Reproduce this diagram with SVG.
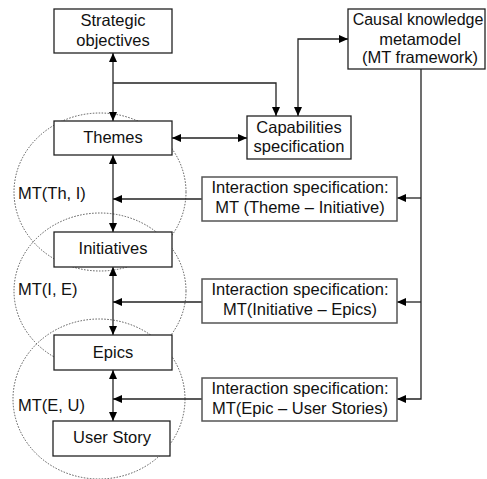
<svg xmlns="http://www.w3.org/2000/svg" width="487" height="479" viewBox="0 0 487 479">
<defs>
<marker id="ah" viewBox="0 0 10 10" refX="10" refY="5" markerWidth="9" markerHeight="8" markerUnits="userSpaceOnUse" orient="auto-start-reverse" preserveAspectRatio="none">
<path d="M0,0 L10,5 L0,10 z" fill="#000"/>
</marker>
</defs>
<style>
text{font-family:"Liberation Sans",Arial,sans-serif;font-size:16.5px;fill:#111;text-anchor:middle}
.lbl{text-anchor:start}
.box{fill:#fff;stroke:#222;stroke-width:1.3}
.ibox{fill:#fff;stroke:#555;stroke-width:1.5}
.c{fill:none;stroke:#222;stroke-width:1.3}
.a{marker-end:url(#ah)}
.b{marker-start:url(#ah);marker-end:url(#ah)}
.ring{fill:none;stroke:#555;stroke-width:1;stroke-dasharray:1.5 1.5}
</style>
<rect width="487" height="479" fill="#fff"/>
<g id="rings">
<ellipse class="ring" cx="100" cy="192" rx="86" ry="79"/>
<ellipse class="ring" cx="100" cy="291" rx="86" ry="78"/>
<ellipse class="ring" cx="99" cy="399" rx="86" ry="80"/>
<text class="lbl" x="18" y="199">MT(Th, I)</text>
<text class="lbl" x="18" y="295">MT(I, E)</text>
<text class="lbl" x="18" y="411">MT(E, U)</text>
</g>
<g id="connectors">
<line class="c b" x1="113" y1="53" x2="113" y2="121"/>
<polyline class="c a" points="113,83 276,83 276,116"/>
<line class="c b" x1="172" y1="138" x2="247" y2="138"/>
<polyline class="c b" points="298,116 298,39 348,39"/>
<polyline class="c a" points="421,69 421,399 397,399"/>
<line class="c a" x1="421" y1="198" x2="397" y2="198"/>
<line class="c a" x1="421" y1="302" x2="397" y2="302"/>
<line class="c b" x1="113" y1="155" x2="113" y2="232"/>
<line class="c a" x1="202" y1="199" x2="113" y2="199"/>
<line class="c b" x1="113" y1="267" x2="113" y2="335"/>
<line class="c a" x1="202" y1="302" x2="113" y2="302"/>
<line class="c b" x1="113" y1="370" x2="113" y2="421"/>
<line class="c a" x1="202" y1="399" x2="113" y2="399"/>
</g>
<g id="strategic">
<rect class="box" x="54" y="9" width="118" height="44"/>
<text x="113" y="26">Strategic</text>
<text x="113" y="46">objectives</text>
</g>
<g id="themes">
<rect class="box" x="54" y="121" width="118" height="34"/>
<text x="113" y="143">Themes</text>
</g>
<g id="capabilities">
<rect class="box" x="247" y="116" width="104" height="43"/>
<text x="299" y="133">Capabilities</text>
<text x="299" y="152">specification</text>
</g>
<g id="causal">
<rect class="box" x="348" y="9" width="137" height="60"/>
<text x="418" y="25" style="font-size:16px">Causal knowledge</text>
<text x="420" y="45">metamodel</text>
<text x="420" y="63">(MT framework)</text>
</g>
<g id="initiatives">
<rect class="box" x="54" y="232" width="118" height="35"/>
<text x="113" y="254">Initiatives</text>
</g>
<g id="epics">
<rect class="box" x="54" y="335" width="118" height="35"/>
<text x="113" y="358">Epics</text>
</g>
<g id="userstory">
<rect class="box" x="53" y="421" width="117" height="35"/>
<text x="112" y="443">User Story</text>
</g>
<g id="int1">
<rect class="ibox" x="202" y="177" width="195" height="44"/>
<text x="300" y="193">Interaction specification:</text>
<text x="300" y="213">MT (Theme – Initiative)</text>
</g>
<g id="int2">
<rect class="ibox" x="202" y="279" width="195" height="44"/>
<text x="300" y="295">Interaction specification:</text>
<text x="300" y="315">MT(Initiative – Epics)</text>
</g>
<g id="int3">
<rect class="ibox" x="202" y="378" width="195" height="43"/>
<text x="300" y="394">Interaction specification:</text>
<text x="300" y="414">MT(Epic – User Stories)</text>
</g>
</svg>
